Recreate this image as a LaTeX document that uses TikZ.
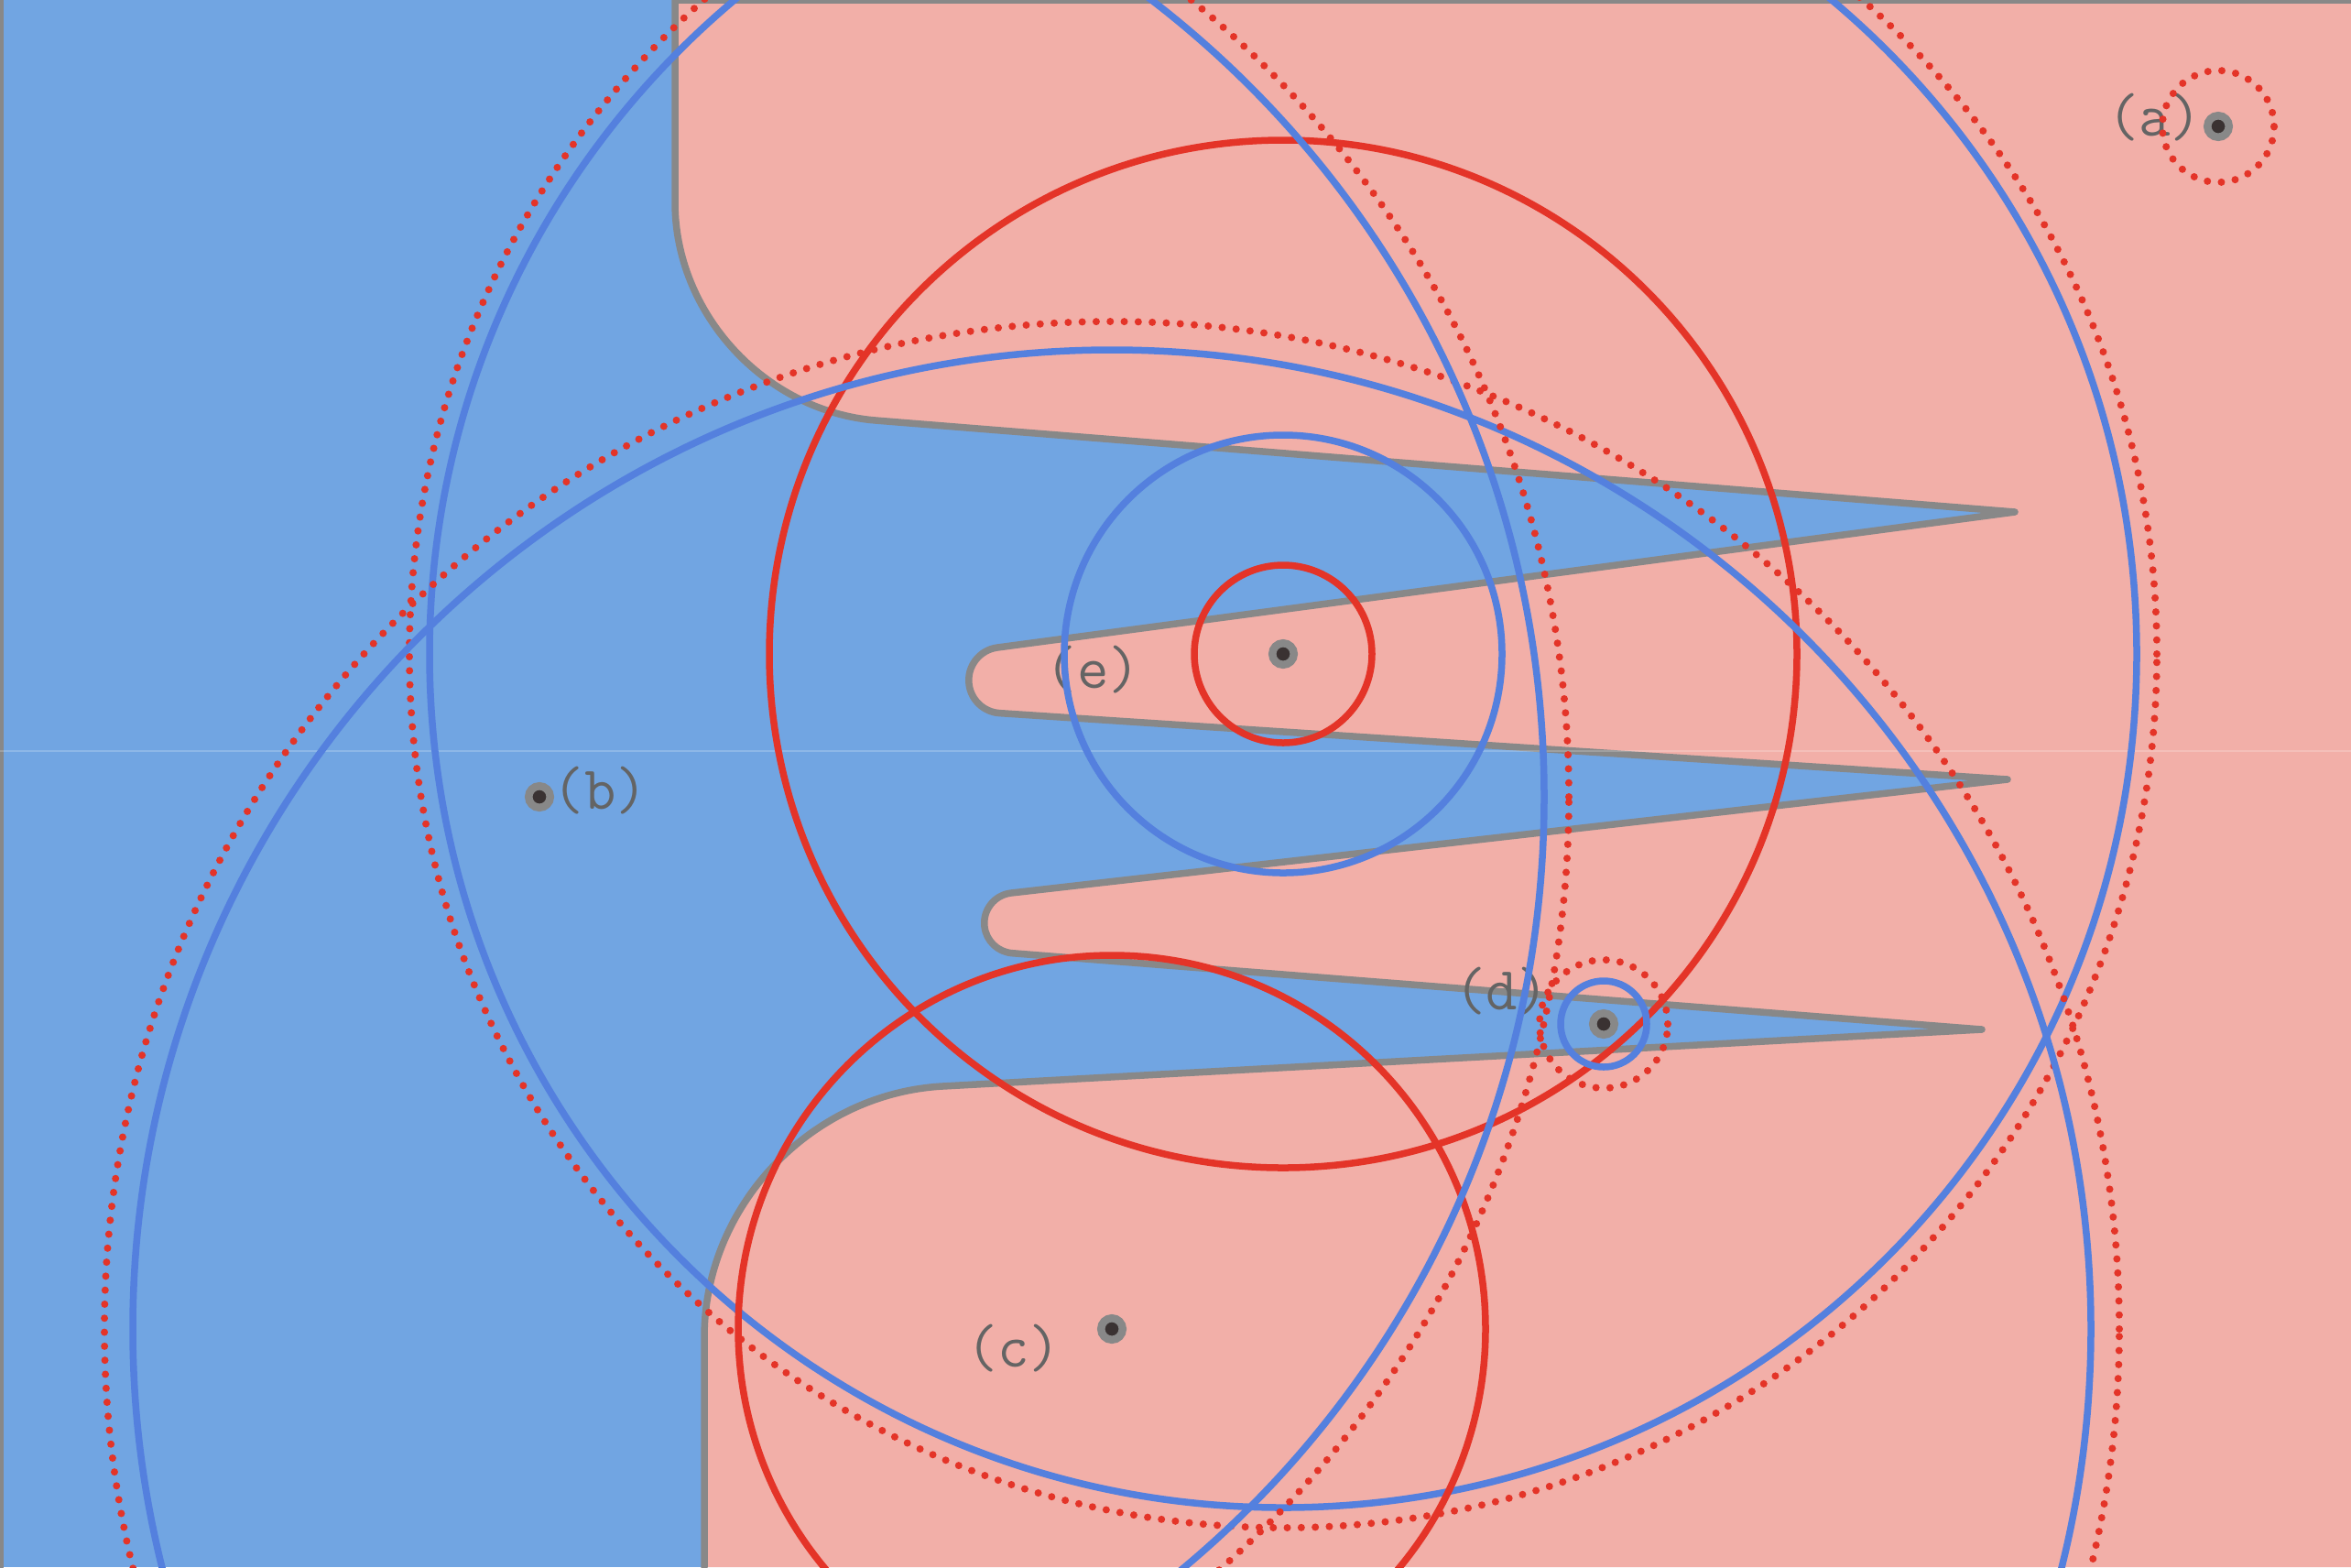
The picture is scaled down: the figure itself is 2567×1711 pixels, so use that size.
\documentclass[tikz,border=0pt]{standalone}
\usepackage{fontspec}
\usepackage{tikz}
\usetikzlibrary{positioning}

\definecolor{bluefill}{RGB}{113,165,226}
\definecolor{pinkfill}{RGB}{242,175,168}
\definecolor{ringblue}{RGB}{84,128,222}
\definecolor{ringred}{RGB}{228,52,40}
\definecolor{edgegray}{RGB}{136,136,136}
\definecolor{labelgray}{RGB}{100,100,100}
\definecolor{ptdark}{RGB}{58,50,50}

% boundary between the two regions, top to bottom
\newcommand{\forkedge}{(737,0) -- (737,-221)
  .. controls (737,-342) and (835,-449) .. (956,-459)
  -- (2200,-559) -- (1089,-707) arc[start angle=97.6,end angle=266.3,radius=36]
  -- (2192,-851) -- (1104,-975) arc[start angle=96.5,end angle=265.5,radius=33]
  -- (2164,-1124) -- (1029,-1186)
  .. controls (886,-1194) and (769,-1316) .. (769,-1460)
  -- (769,-1711)}

\begin{document}
\begin{tikzpicture}[x=0.01cm,y=0.01cm,
    edge/.style={draw=edgegray,line width=0.075cm,line join=round,line cap=round},
    bluering/.style={draw=ringblue,line width=0.075cm},
    redring/.style={draw=ringred,line width=0.075cm},
    reddots/.style={draw=ringred,line width=0.08cm,line cap=round,
      dash pattern=on 0pt off 0.153cm},
    pt/.style={circle,fill=ptdark,draw=edgegray,line width=0.085cm,
      minimum size=0.235cm,inner sep=0pt},
    lbl/.style={text=labelgray,inner sep=0pt,
      font=\ttfamily\fontsize{19pt}{19pt}\selectfont}]
  \useasboundingbox (0,0) rectangle (2567,-1711);
  \clip (0,0) rectangle (2567,-1711);

  % regions
  \fill[bluefill] (0,0) rectangle (2567,-1711);
  \fill[pinkfill] \forkedge -- (2567,-1711) -- (2567,0) -- cycle;
  \draw[edge] (2567,0) -- \forkedge;
  \draw[edge] (0,0) -- (0,-1711);
  \draw[white,opacity=0.2,line width=0.02cm] (0,-820) -- (2567,-820);

  % sample points
  \node[pt] (a) at (2422,-138) {};
  \node[pt] (b) at (589,-870) {};
  \node[pt] (c) at (1214,-1451) {};
  \node[pt] (d) at (1751,-1118) {};
  \node[pt] (e) at (1401,-714) {};

  \node[lbl,left=0.01cm of a,yshift=0.1cm] (la) {(a)};
  \node[lbl,right=-0.02cm of b,yshift=0.07cm] (lb) {(b)};
  \node[lbl,left=0.39cm of c,yshift=-0.21cm] (lc) {(c)};
  \node[lbl,left=0.43cm of d,yshift=0.36cm] (ld) {(d)};
  \node[lbl,left=1.39cm of e,yshift=-0.17cm] (le) {(e)};

  % circles round (e)
  \draw[redring] (e) circle (97);
  \draw[bluering] (e) circle (239);
  \draw[redring] (e) circle (561);
  \draw[bluering] (e) circle (932);
  \draw[reddots] (e) circle (954);

  % circles round (c)
  \draw[redring] (c) circle (408);
  \draw[bluering] (c) circle (1069);
  \draw[reddots] (c) circle (1100);

  % circles round (b)
  \draw[bluering] (b) circle (1097);
  \draw[reddots] (b) circle (1124);

  % circles round (d) and (a)
  \draw[bluering] (d) circle (47);
  \draw[reddots] (d) circle (70);
  \draw[reddots] (a) circle (61);
\end{tikzpicture}
\end{document}
